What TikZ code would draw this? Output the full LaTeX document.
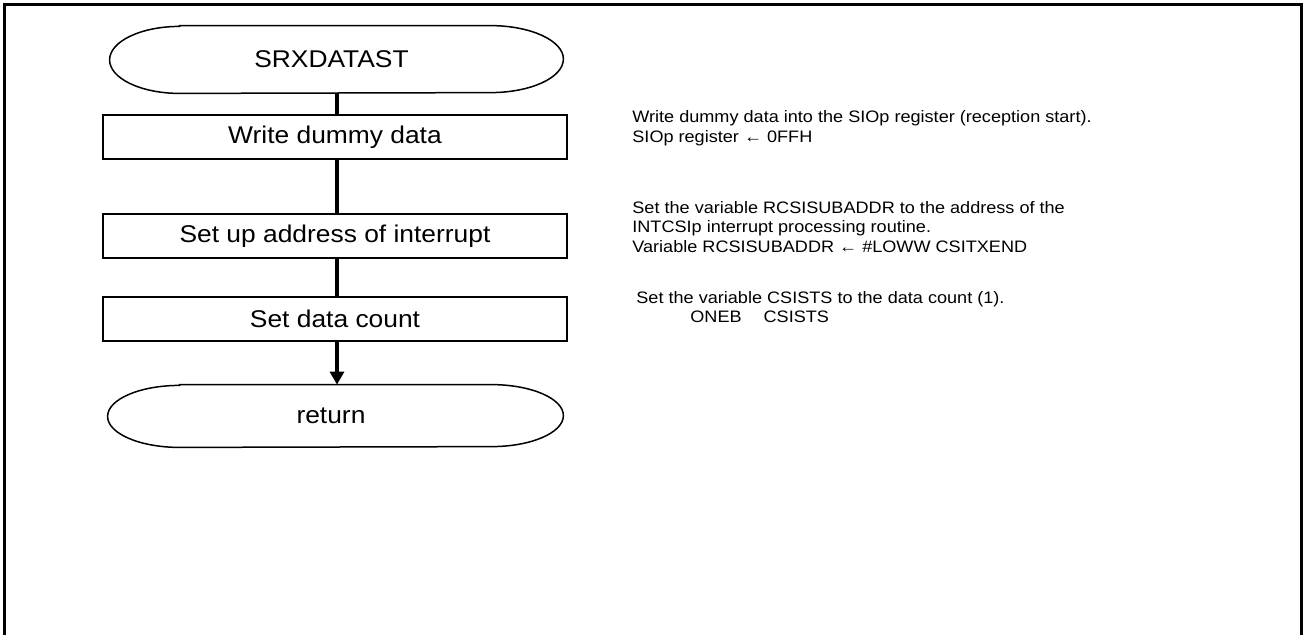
\documentclass[tikz,border=0pt]{standalone}
\usepackage{fontspec}
\setmainfont{Liberation Sans}
\newfontfamily\wideface[FakeStretch=1.09]{Liberation Sans}
\usetikzlibrary{arrows.meta,calc}
\begin{document}
\begin{tikzpicture}[x=0.5pt,y=-0.5pt,
  termnode/.style={minimum width=226.5pt,minimum height=33.5pt,inner sep=0pt,font=\wideface\fontsize{12.1}{14}\selectfont},
  termline/.style={line width=0.75pt},
  boxnode/.style={draw,line width=0.75pt,minimum width=232pt,minimum height=22pt,inner sep=0pt,font=\wideface\fontsize{12.1}{14}\selectfont},
  conn/.style={line width=1.6pt},
  note/.style={anchor=west,align=left,inner sep=0pt,font=\wideface\fontsize{8.3}{9.9}\selectfont}]
\useasboundingbox (0,0) rectangle (1303,634);
\draw[line width=1.5pt] (4.5,640) -- (4.5,4.5) -- (1301.5,4.5) -- (1301.5,640);
% terminals
\node[termnode] (t1) at (336.5,59.5) {\hspace*{-5pt}SRXDATAST};
\draw[termline] ([xshift=35pt]t1.north west) -- ([xshift=-36.5pt]t1.north east)
  arc[start angle=90,end angle=-90,x radius=36.5pt,y radius=16.75pt]
  -- ([xshift=35pt]t1.south west)
  arc[start angle=270,end angle=90,x radius=35pt,y radius=16.75pt] -- cycle;
\node[boxnode] (b1) at (335,137) {Write dummy data};
\node[boxnode] (b2) at (335,236) {\raisebox{1.5pt}{Set up address of interrupt}};
\node[boxnode] (b3) at (335,319) {Set data count};
\node[termnode,minimum width=227.5pt,minimum height=31pt] (t2) at (335.5,416) {\hspace*{-4.5pt}return};
\draw[termline] ([xshift=36pt]t2.north west) -- ([xshift=-36pt]t2.north east)
  arc[start angle=90,end angle=-90,x radius=36pt,y radius=15.5pt]
  -- ([xshift=36pt]t2.south west)
  arc[start angle=270,end angle=90,x radius=36pt,y radius=15.5pt] -- cycle;
% connectors
\draw[conn] (t1.south -| 337,0) -- (b1.north -| 337,0);
\draw[conn] (b1.south -| 337,0) -- (b2.north -| 337,0);
\draw[conn] (b2.south -| 337,0) -- (b3.north -| 337,0);
\draw[conn,-{Triangle[length=6.5pt,width=7pt]}] (b3.south -| 337,0) -- (t2.north -| 337,0);
% notes
\node[note] (n1) at (632,128) {Write dummy data into the SIOp register (reception start).\\SIOp register ← 0FFH};
\node[note] (n2) at (632,227) {Set the variable RCSISUBADDR to the address of the\\INTCSIp interrupt processing routine.\\Variable RCSISUBADDR ← \#LOWW CSITXEND};
\node[note] (n3) at (636,307) {Set the variable CSISTS to the data count (1).\\\hspace*{27pt}ONEB\hspace{11pt}CSISTS};
\end{tikzpicture}
\end{document}
